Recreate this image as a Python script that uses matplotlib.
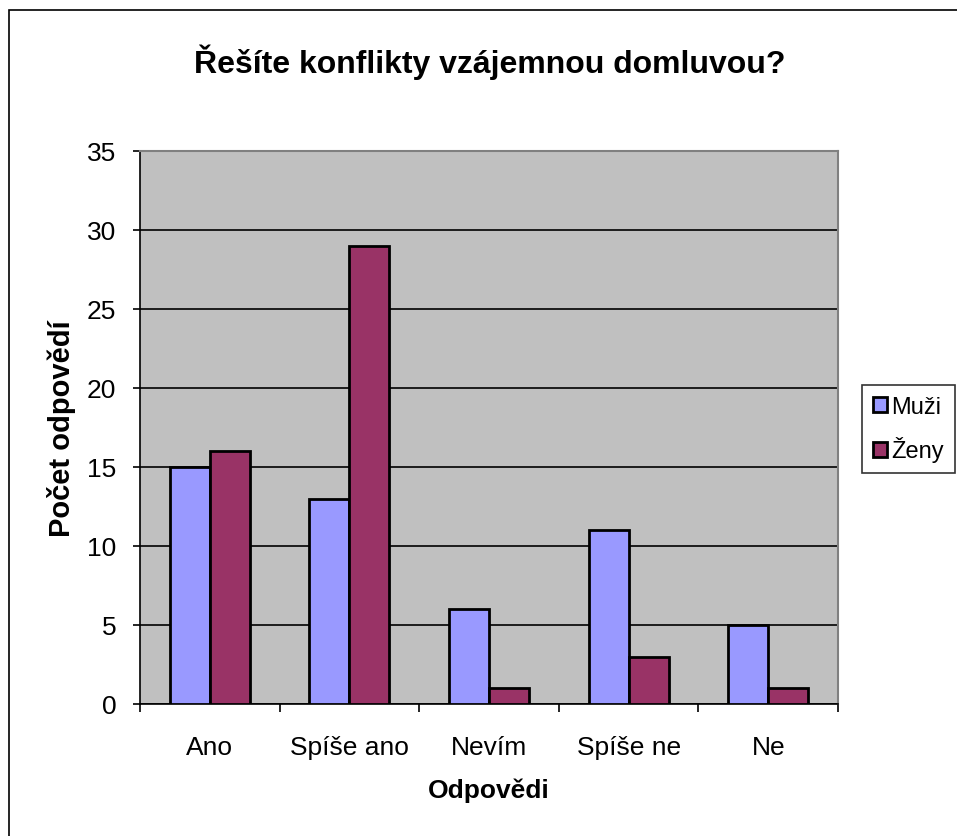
import matplotlib.pyplot as plt
import matplotlib.patches as mpatches
import numpy as np

plt.rcParams['font.family'] = ['Liberation Sans', 'DejaVu Sans']

categories = ['Ano', 'Spíše ano', 'Nevím', 'Spíše ne', 'Ne']
muzi = [15, 13, 6, 11, 5]
zeny = [16, 29, 1, 3, 1]
yticks = [0, 5, 10, 15, 20, 25, 30, 35]

W, H = 957, 837
fig = plt.figure(figsize=(W / 100, H / 100), dpi=100, facecolor='w')

# outer chart border (cut off on right / bottom like the original)
fig.patches.append(mpatches.Rectangle((9 / W, -0.01), 1.02, 1 - 11 / H + 0.01,
                                      transform=fig.transFigure, fill=False,
                                      edgecolor='black', linewidth=1.2))

ax = fig.add_axes([140 / W, 1 - 705 / H, 698 / W, 553 / H])
ax.set_facecolor('#C0C0C0')

x = np.arange(len(categories))
w = 0.286
ax.bar(x - w / 2, muzi, w, color='#9999FF', edgecolor='black', linewidth=2,
       label='Muži', zorder=3)
ax.bar(x + w / 2, zeny, w, color='#993366', edgecolor='black', linewidth=2,
       label='Ženy', zorder=3)

ax.set_xlim(-0.5, len(categories) - 0.5)
ax.set_ylim(0, 35)
ax.set_yticks(yticks)
ax.yaxis.grid(True, color='black', linewidth=1.2, zorder=1)
ax.set_axisbelow(True)

ax.set_xticks(x)
ax.set_xticklabels(categories, fontsize=19)
ax.tick_params(axis='x', length=0, pad=22)
ax.set_xticks(np.arange(len(categories) + 1) - 0.5, minor=True)
ax.tick_params(axis='x', which='minor', length=6, width=1.2, direction='out')
ax.tick_params(axis='y', labelsize=19, length=5, width=1.2, pad=12)

for s in ['top', 'right']:
    ax.spines[s].set_color('#808080')
    ax.spines[s].set_linewidth(1.5)
for s in ['left', 'bottom']:
    ax.spines[s].set_color('black')
    ax.spines[s].set_linewidth(1.2)

ax.set_xlabel('Odpovědi', fontsize=19, fontweight='bold', labelpad=14)
ax.set_ylabel('Počet odpovědí', fontsize=21, fontweight='bold', labelpad=8)

fig.text(490 / W, 1 - 62 / H, 'Řešíte konflikty vzájemnou domluvou?',
         ha='center', va='center', fontsize=23, fontweight='bold')

leg = fig.legend(loc='center left', bbox_to_anchor=(862 / W, 1 - 430 / H),
                 fontsize=17, frameon=True, fancybox=False, edgecolor='black',
                 handlelength=0.6, handleheight=0.6, handletextpad=0.2,
                 labelspacing=0.8, borderpad=0.45, borderaxespad=0)
leg.get_frame().set_linewidth(1.2)

fig.savefig('out.png', dpi=100, facecolor='w')
